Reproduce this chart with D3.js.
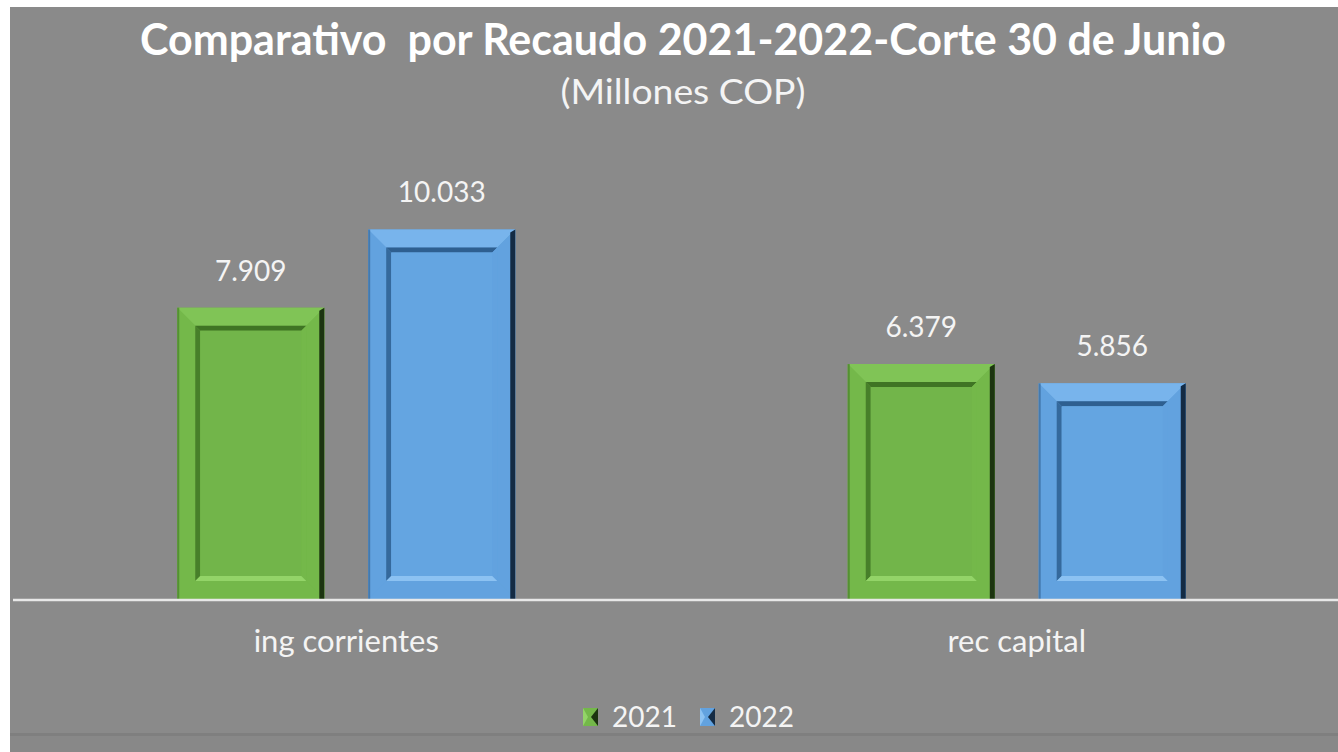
<!DOCTYPE html>
<html><head><meta charset="utf-8">
<script src="https://cdn.jsdelivr.net/npm/d3@7"></script>
<style>
html,body{margin:0;padding:0;background:#fff;}
svg{display:block;}
</style></head>
<body>
<svg id="chart" width="1338" height="752"></svg>
<script>
const categories = ["ing corrientes", "rec capital"];
const seriesNames = ["2021", "2022"];
const values2021 = [7909, 6379];
const values2022 = [10033, 5856];
const valueLabels2021 = ["7.909", "6.379"];
const valueLabels2022 = ["10.033", "5.856"];
const titleText = "Comparativo  por Recaudo 2021-2022-Corte 30 de Junio";
const subtitleText = "(Millones COP)";

const colors = {
  "2021": {base:"#74b84a", inner:"#72b54a", dark:"#3f7424", darker:"#1c3410", light:"#93d468", lightTop:"#80c456"},
  "2022": {base:"#62a2df", inner:"#64a5e1", dark:"#2e5f90", darker:"#142b44", light:"#8cc2f2", lightTop:"#78b4ec"}
};

const W = 1338, H = 752;
const svg = d3.select("#chart");
const font = "Lato, 'Open Sans', sans-serif";

// background
svg.append("rect").attr("x",0).attr("y",0).attr("width",W).attr("height",H).attr("fill","#ffffff");
svg.append("rect").attr("x",10).attr("y",7).attr("width",W-10).attr("height",H-7).attr("fill","#8a8a8a");
svg.append("rect").attr("x",10).attr("y",733).attr("width",W-10).attr("height",3).attr("fill","#7f7f7f");
svg.append("rect").attr("x",10).attr("y",736).attr("width",W-10).attr("height",16).attr("fill","#888888");

const x = d3.scaleBand().domain(categories).range([11, 1352]);
const xs = d3.scaleBand().domain(seriesNames).range([0, 338]).paddingInner(0.23);
const y = d3.scaleLinear().domain([0, 12000]).range([599, 157]);

const data = [];
categories.forEach((c,i)=>{
  data.push({cat:c, s:"2021", v:values2021[i], label:valueLabels2021[i]});
  data.push({cat:c, s:"2022", v:values2022[i], label:valueLabels2022[i]});
});

const groupOffset = (x.bandwidth() - 338)/2;

const bars = svg.append("g");
data.forEach(d=>{
  const x0 = x(d.cat) + groupOffset + xs(d.s);
  const w = xs.bandwidth();
  const y0 = y(d.v);
  const y1 = y(0);
  const c = colors[d.s];
  const g = bars.append("g");
  const fw = 18; // frame width
  const ix0 = x0+fw, ix1 = x0+w-fw, iy0 = y0+fw, iy1 = y1-fw;
  const x1 = x0+w;
  g.append("rect").attr("x",x0).attr("y",y0).attr("width",w).attr("height",y1-y0).attr("fill",c.base);
  g.append("polygon").attr("points",[[x0,y0],[x1,y0],[ix1,iy0],[ix0,iy0]].join(" ")).attr("fill",c.lightTop);
  g.append("polygon").attr("points",[[x0,y0],[ix0,iy0],[ix0,iy1],[x0,y1]].join(" ")).attr("fill",c.base);
  g.append("polygon").attr("points",[[x1,y0],[x1,y1],[ix1,iy1],[ix1,iy0]].join(" ")).attr("fill",c.base);
  g.append("polygon").attr("points",[[x0,y1],[x1,y1],[ix1,iy1],[ix0,iy1]].join(" ")).attr("fill",c.base);
  const b = 5;
  g.append("polygon").attr("points",[[ix0,iy0],[ix1,iy0],[ix1-b,iy0+b],[ix0+b,iy0+b]].join(" ")).attr("fill",c.dark);
  g.append("polygon").attr("points",[[ix0,iy0],[ix0+b,iy0+b],[ix0+b,iy1-b],[ix0,iy1]].join(" ")).attr("fill",c.dark).attr("opacity",0.85);
  g.append("polygon").attr("points",[[ix1,iy0],[ix1,iy1],[ix1-b,iy1-b],[ix1-b,iy0+b]].join(" ")).attr("fill",c.base);
  g.append("polygon").attr("points",[[ix0,iy1],[ix1,iy1],[ix1-b,iy1-b],[ix0+b,iy1-b]].join(" ")).attr("fill",c.light);
  g.append("rect").attr("x",ix0+b).attr("y",iy0+b).attr("width",ix1-ix0-2*b).attr("height",iy1-iy0-2*b).attr("fill",c.inner);
  g.append("polygon").attr("points",[[x1-5,y0+3],[x1,y0],[x1,y1],[x1-5,y1]].join(" ")).attr("fill",c.darker);
  g.append("rect").attr("x",x0).attr("y",y0).attr("width",2).attr("height",y1-y0).attr("fill",c.dark).attr("opacity",0.6);
  svg.append("text").attr("x",x0+w/2).attr("y",y0-27)
    .attr("text-anchor","middle").attr("font-family",font).attr("font-size",28)
    .attr("fill","#f4f4f4").text(d.label);
});

// axis line
svg.append("line").attr("x1",13).attr("x2",W).attr("y1",600).attr("y2",600)
  .attr("stroke","#e8e8e8").attr("stroke-width",2.5);

// category labels
categories.forEach(c=>{
  svg.append("text").attr("x",x(c)+x.bandwidth()/2).attr("y",652)
    .attr("text-anchor","middle").attr("font-family",font).attr("font-size",31)
    .attr("fill","#f4f4f4").text(c);
});

// title
svg.append("text").attr("x",683).attr("y",55).attr("text-anchor","middle")
  .attr("font-family",font).attr("font-weight","bold").attr("font-size",43)
  .attr("fill","#ffffff").attr("textLength",1086).attr("lengthAdjust","spacingAndGlyphs")
  .style("white-space","pre").text(titleText);
svg.append("text").attr("x",683).attr("y",104).attr("text-anchor","middle")
  .attr("font-family",font).attr("font-size",34)
  .attr("fill","#f4f4f4").attr("textLength",245).attr("lengthAdjust","spacingAndGlyphs").text(subtitleText);

// legend
const legend = svg.append("g");
const legendItems = [{s:"2021", x:583}, {s:"2022", x:700}];
legendItems.forEach(it=>{
  const c = colors[it.s];
  const lx = it.x, ly = 708;
  legend.append("rect").attr("x",lx).attr("y",ly).attr("width",15).attr("height",18).attr("fill",c.base);
  legend.append("polygon").attr("points",[[lx+8,ly+9],[lx+15,ly],[lx+15,ly+18]].join(" ")).attr("fill",c.darker);
  legend.append("polygon").attr("points",[[lx,ly],[lx+5,ly+9],[lx,ly+18]].join(" ")).attr("fill",c.light);
  legend.append("text").attr("x",lx+29).attr("y",ly+19).attr("font-family",font).attr("font-size",28)
    .attr("fill","#f4f4f4").text(it.s);
});
</script>
</body></html>
